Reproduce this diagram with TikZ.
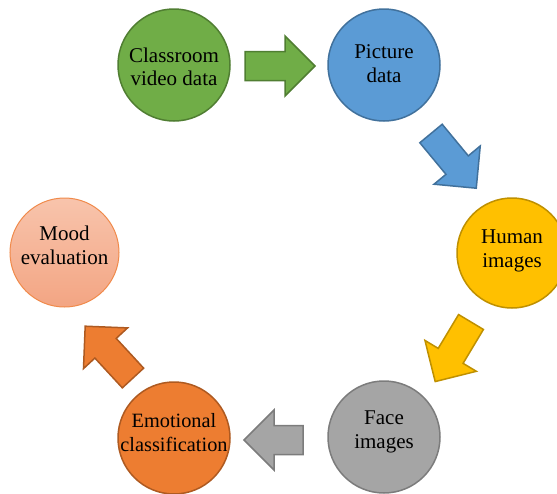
\documentclass[tikz,border=0pt]{standalone}
\usepackage{fontspec}
\setmainfont{Liberation Serif}
\definecolor{grnF}{HTML}{70AD47}\definecolor{grnD}{HTML}{507E32}
\definecolor{bluF}{HTML}{5B9BD5}\definecolor{bluD}{HTML}{41719C}
\definecolor{yelF}{HTML}{FFC000}\definecolor{yelD}{HTML}{BF9000}
\definecolor{gryF}{HTML}{A5A5A5}\definecolor{gryD}{HTML}{7C7C7C}
\definecolor{orgF}{HTML}{ED7D31}\definecolor{orgD}{HTML}{AE5A21}
\definecolor{moodT}{HTML}{F8C4AC}\definecolor{moodB}{HTML}{F3A583}\definecolor{moodD}{HTML}{F08A4B}
\tikzset{
  stage/.style={circle, minimum size=112pt, inner sep=0pt, line width=1.5pt},
  lbl/.style={font=\fontsize{21}{23.5}\selectfont, align=center, inner sep=0pt, text=black},
  blk/.style={line width=1.5pt, line join=miter}
}
\newcommand{\blockarrow}[4]{% style, tail, angle, length
  \draw[blk,#1,shift={#2},rotate=#3] (0,14.5) -- ({#4-30},14.5) -- ({#4-30},30) -- (#4,0)
    -- ({#4-30},-30) -- ({#4-30},-14.5) -- (0,-14.5) -- cycle;}
\begin{document}
\begin{tikzpicture}[x=1pt,y=-1pt]
\useasboundingbox (0,0) rectangle (557,493);
% stages
\node[stage, fill=grnF, draw=grnD] (c1) at (174,65) {};
\node[stage, fill=bluF, draw=bluD] (c2) at (384,65) {};
\node[stage, minimum size=110pt, fill=yelF, draw=yelD] (c3) at (512,253) {};
\node[stage, fill=gryF, draw=gryD] (c4) at (384,437) {};
\node[stage, fill=orgF, draw=orgD] (c5) at (174,438) {};
\node[stage, minimum size=109pt, top color=moodT, bottom color=moodB, draw=moodD, line width=1pt] (c6) at (64.5,252.5) {};
% labels
\node[lbl, yshift=-2pt] (t1) at (c1.center) {Classroom\\video data};
\node[lbl, yshift=1.5pt] (t2) at (c2.center) {Picture\\data};
\node[lbl, yshift=2.3pt] (t3) at (c3.center) {Human\\images};
\node[lbl, yshift=5pt] (t4) at (c4.center) {Face\\images};
\node[lbl, yshift=5.5pt, font=\fontsize{20.3}{23.5}\selectfont] (t5) at (c5.center) {Emotional\\classification};
\node[lbl, yshift=7pt] (t6) at (c6.center) {Mood\\evaluation};
% arrow tails
\coordinate (a1) at (245,66);
\coordinate (a2) at (431,133.5);
\coordinate (a3) at (471,322);
\coordinate (a4) at (303,440);
\coordinate (a5) at (133,378);
\blockarrow{fill=grnF, draw=grnD}{(a1)}{0}{70}
\blockarrow{fill=bluF, draw=bluD}{(a2)}{-50.4}{71}
\blockarrow{fill=yelF, draw=yelD}{(a3)}{-121}{69.5}
\blockarrow{fill=gryF, draw=gryD}{(a4)}{180}{59}
\blockarrow{fill=orgF, draw=orgD}{(a5)}{132.7}{70.5}
\end{tikzpicture}
\end{document}
